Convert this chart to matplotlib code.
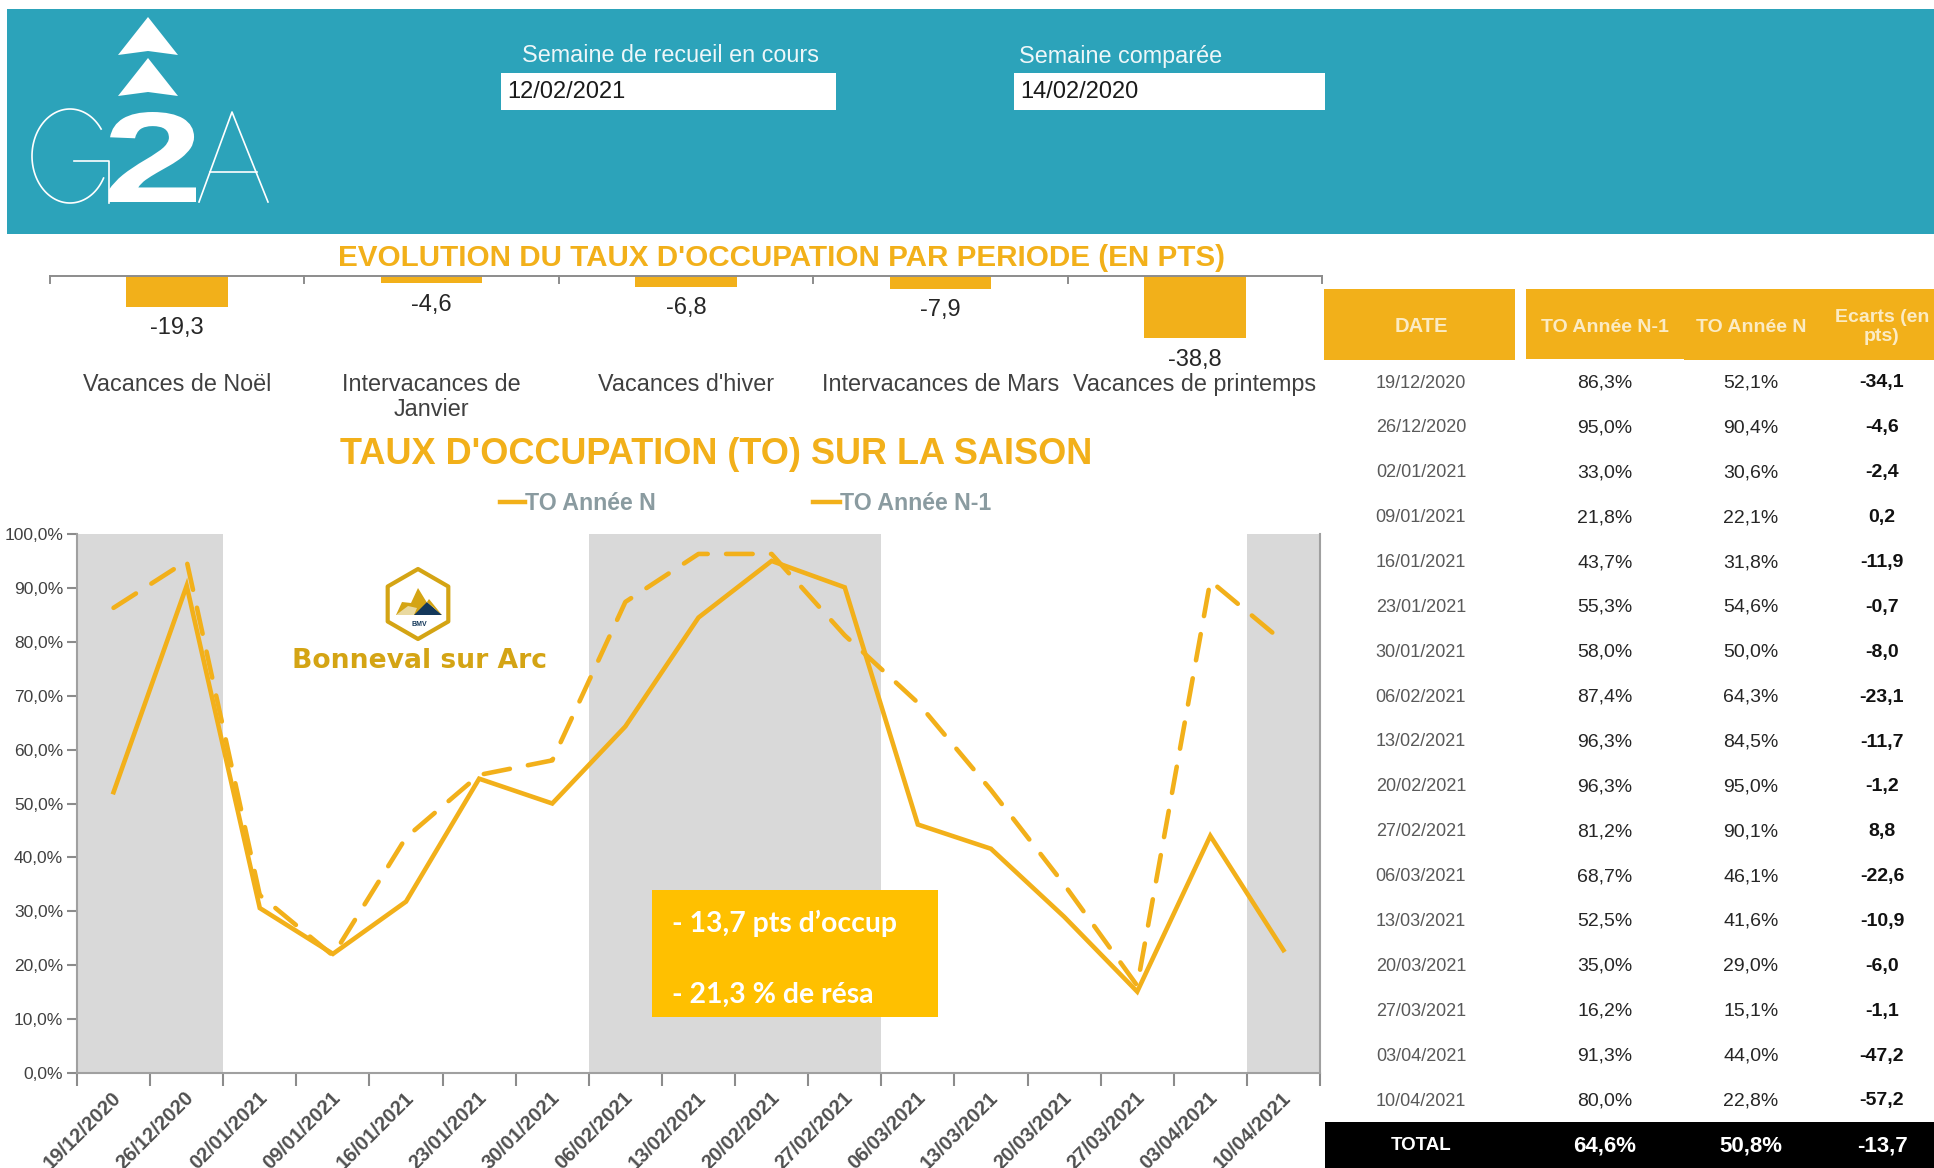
import matplotlib
matplotlib.use("Agg")
import matplotlib.pyplot as plt
from matplotlib.patches import Rectangle, Polygon, RegularPolygon, PathPatch
from matplotlib.textpath import TextPath
from matplotlib.font_manager import FontProperties
from matplotlib.transforms import Affine2D
import numpy as np

plt.rcParams['font.family'] = ['Liberation Sans', 'DejaVu Sans']

W, H = 1934, 1168
ORANGE = '#F2B01A'
TEAL = '#2CA3BA'

dates = ['19/12/2020', '26/12/2020', '02/01/2021', '09/01/2021', '16/01/2021', '23/01/2021',
         '30/01/2021', '06/02/2021', '13/02/2021', '20/02/2021', '27/02/2021', '06/03/2021',
         '13/03/2021', '20/03/2021', '27/03/2021', '03/04/2021', '10/04/2021']
to_n1 = [86.3, 95.0, 33.0, 21.8, 43.7, 55.3, 58.0, 87.4, 96.3, 96.3, 81.2, 68.7, 52.5, 35.0, 16.2, 91.3, 80.0]
to_n = [52.1, 90.4, 30.6, 22.1, 31.8, 54.6, 50.0, 64.3, 84.5, 95.0, 90.1, 46.1, 41.6, 29.0, 15.1, 44.0, 22.8]
ecarts = ['-34,1', '-4,6', '-2,4', '0,2', '-11,9', '-0,7', '-8,0', '-23,1', '-11,7', '-1,2', '8,8',
          '-22,6', '-10,9', '-6,0', '-1,1', '-47,2', '-57,2']
periods = ['Vacances de Noël', 'Intervacances de\nJanvier', "Vacances d'hiver", 'Intervacances de Mars', 'Vacances de printemps']
period_values = [-19.3, -4.6, -6.8, -7.9, -38.8]
shaded_spans = [(0, 2), (7, 11), (16, 17)]
total_row = ['TOTAL', '64,6%', '50,8%', '-13,7']


def box(x0, y0, x1, y1):
    return [x0 / W, 1 - y1 / H, (x1 - x0) / W, (y1 - y0) / H]


def fr(v):
    return f'{v:.1f}'.replace('.', ',')


fig = plt.figure(figsize=(W / 100, H / 100), dpi=100, facecolor='white')

# overlay behind the charts
bg = fig.add_axes([0, 0, 1, 1], zorder=0)
bg.set_xlim(0, W); bg.set_ylim(H, 0); bg.axis('off')
bg.add_patch(Rectangle((7, 9), W - 7, 225, fc=TEAL, ec='none'))
# G2A logo
for y in (17, 58):
    bg.add_patch(Polygon([(148, y), (118, y + 38), (148, y + 34), (178, y + 38)], closed=True, fc='white', ec='none'))
th = np.radians(np.linspace(35, 332, 120))
bg.plot(70 + 38 * np.cos(th), 156 - 47 * np.sin(th), color='white', lw=1.2)
bg.plot([74, 109, 109], [161, 161, 203], color='white', lw=1.2)
tp = TextPath((0, 0), '2', size=100, prop=FontProperties(family='Liberation Sans', weight='bold'))
e = tp.get_extents()
sx, sy = 87 / e.width, 90 / e.height
bg.add_patch(PathPatch(Affine2D().translate(-e.x0, -e.y0).scale(sx, -sy).translate(109, 202).transform_path(tp),
                       fc='white', ec='none'))
bg.plot([199, 232, 268], [202, 112, 202], color='white', lw=1.2)
bg.plot([210, 257], [172, 172], color='white', lw=1.2)

# date fields
bg.text(670, 56, 'Semaine de recueil en cours', color='#EEF7F9', fontsize=16.8, ha='center', va='center')
bg.text(1121, 56, 'Semaine comparée', color='#EEF7F9', fontsize=16.8, ha='center', va='center')
bg.add_patch(Rectangle((501, 73), 335, 37, fc='white', ec='none'))
bg.add_patch(Rectangle((1014, 73), 311, 37, fc='white', ec='none'))
bg.text(507, 92, '12/02/2021', color='#1A1A1A', fontsize=17, va='center')
bg.text(1020, 92, '14/02/2020', color='#1A1A1A', fontsize=17, va='center')

# titles
bg.text(781, 258, "EVOLUTION DU TAUX D'OCCUPATION PAR PERIODE (EN PTS)", color=ORANGE, fontsize=21.3,
        fontweight='bold', ha='center', va='center')
bg.text(716, 455, "TAUX D'OCCUPATION (TO) SUR LA SAISON", color=ORANGE, fontsize=26,
        fontweight='bold', ha='center', va='center')

# period bar chart
ax1 = fig.add_axes(box(50, 276, 1322, 370), zorder=1)
ax1.patch.set_alpha(0)
x1 = np.arange(len(period_values))
ax1.bar(x1, period_values, width=0.4, color=ORANGE)
ax1.set_xlim(-0.5, len(period_values) - 0.5)
ax1.set_ylim(-58.75, 0)
ax1.set_yticks([])
for s in ('left', 'right', 'bottom'):
    ax1.spines[s].set_visible(False)
ax1.spines['top'].set_color('#8C8C8C')
ax1.spines['top'].set_linewidth(1.4)
ax1.set_xticks([])
for xt in np.arange(len(period_values) + 1) - 0.5:
    ax1.plot([xt, xt], [0, -4.5], color='#8C8C8C', lw=1.4, clip_on=False)
for xi, v in zip(x1, period_values):
    ax1.annotate(fr(v), (xi, v), xytext=(0, -15.5), textcoords='offset points', ha='center', va='center',
                 fontsize=17, color='#262626')
for xi, lab in zip(x1, periods):
    ax1.annotate(lab, (xi, 1), xycoords=('data', 'axes fraction'), xytext=(0, -70), textcoords='offset points',
                 ha='center', va='top', fontsize=16.8, color='#404040', linespacing=1.12,
                 annotation_clip=False)

# line chart
ax = fig.add_axes(box(77, 534, 1320, 1073), zorder=1)
x = np.arange(len(dates))
for a, b in shaded_spans:
    ax.axvspan(a - 0.5, b - 0.5, color='#D9D9D9', lw=0, zorder=0)
ax.plot(x, to_n, color=ORANGE, lw=3.3, solid_joinstyle='miter', label='TO Année N', zorder=3)
ax.plot(x, to_n1, color=ORANGE, lw=3.3, dashes=(5.8, 4), dash_capstyle='round', dash_joinstyle='round',
        label='TO Année N-1', zorder=3)
ax.set_xlim(-0.5, len(dates) - 0.5)
ax.set_ylim(0, 100)
ax.set_yticks(np.arange(0, 101, 10))
ax.set_yticklabels([f'{v},0%' for v in range(0, 101, 10)], fontsize=12.5, color='#404040')
ax.set_xticks(np.arange(len(dates) + 1) - 0.5)
ax.set_xticklabels([])
ax.tick_params(axis='x', length=9, width=1.5, color='#8C8C8C')
ax.tick_params(axis='y', length=7, width=1.5, color='#8C8C8C', pad=3)
for s in ('top', 'left', 'right', 'bottom'):
    ax.spines[s].set_color('#A0A0A0')
    ax.spines[s].set_linewidth(1.5)
ax.spines['top'].set_visible(False)
for xi, d in zip(x, dates):
    ax.annotate(d, (xi, 0), xytext=(-1.6, -11), textcoords='offset points', rotation=45, rotation_mode='anchor',
                ha='right', va='top', fontsize=14.5, fontweight='bold', color='#505050', annotation_clip=False)

# overlay above the charts
fg = fig.add_axes([0, 0, 1, 1], zorder=3)
fg.set_xlim(0, W); fg.set_ylim(H, 0); fg.axis('off'); fg.patch.set_alpha(0)

# legend
fg.plot([500, 525], [502, 502], color=ORANGE, lw=3.2)
fg.text(525, 503, 'TO Année N', color='#8A9BA0', fontsize=16.7, fontweight='bold', va='center')
fg.plot([813, 840], [502, 502], color=ORANGE, lw=3.2)
fg.text(840, 503, 'TO Année N-1', color='#8A9BA0', fontsize=16.7, fontweight='bold', va='center')

# Bonneval logo
GOLD = '#D4A414'
fg.add_patch(RegularPolygon((418, 604), 6, radius=35, orientation=0, fc='white', ec=GOLD, lw=3.0, joinstyle='round'))
fg.add_patch(Polygon([(396, 615), (402, 602), (411, 603), (418, 588), (429, 606), (424, 615)], fc=GOLD, ec='none'))
fg.add_patch(Polygon([(396, 615), (408, 606), (417, 608), (414, 615)], fc='#E9D9A0', ec='none'))
fg.add_patch(Polygon([(414, 615), (427, 602), (442, 615)], fc='#14385A', ec='none'))
fg.add_patch(Polygon([(427, 602), (429, 599), (442, 615)], fc=GOLD, ec='none'))
fg.text(419, 624, 'BMV', color='#14385A', fontsize=5, fontweight='bold', ha='center', va='center')
fg.text(420, 661, 'Bonneval sur Arc', color=GOLD, fontsize=19.2, fontweight='bold', family=['DejaVu Sans'],
        ha='center', va='center')

# callout
fg.add_patch(Rectangle((652, 890), 286, 127, fc='#FFC000', ec='none'))
fg.text(672, 923, '- 13,7 pts d’occup', color='white', fontsize=20.4, fontweight='bold', family=['Lato'], va='center')
fg.text(672, 995, '- 21,3 % de résa', color='white', fontsize=20.4, fontweight='bold', family=['Lato'], va='center')

# table
fg.add_patch(Rectangle((1324, 289), 191, 71, fc=ORANGE, ec='none'))
fg.add_patch(Rectangle((1526, 289), W - 1526, 70, fc=ORANGE, ec='none'))
fg.add_patch(Rectangle((1684, 340), W - 1684, 20, fc=ORANGE, ec='none'))
col_x = [1421, 1605, 1751, 1882]
for cx, lab, fs in zip(col_x, ['DATE', 'TO Année N-1', 'TO Année N', 'Ecarts (en\npts)'], [14.5, 14, 14, 14]):
    fg.text(cx, 327, lab, color='#FBEBC4', fontsize=fs, fontweight='bold', ha='center', va='center', linespacing=1.2)
row_y = 383 + (1101 - 383) / 16 * np.arange(len(dates))
for y, d, a, b, e_ in zip(row_y, dates, to_n1, to_n, ecarts):
    fg.text(col_x[0], y, d, color='#595959', fontsize=13, ha='center', va='center')
    fg.text(col_x[1], y, fr(a) + '%', color='#262626', fontsize=14, ha='center', va='center')
    fg.text(col_x[2], y, fr(b) + '%', color='#262626', fontsize=14, ha='center', va='center')
    fg.text(col_x[3], y, e_, color='#111111', fontsize=14, fontweight='bold', ha='center', va='center')
fg.add_patch(Rectangle((1325, 1122), W - 1325, 46, fc='black', ec='none'))
fg.text(col_x[0], 1146, total_row[0], color='white', fontsize=13.5, fontweight='bold', ha='center', va='center')
for cx, t in zip(col_x[1:], total_row[1:]):
    fg.text(cx, 1146, t, color='white', fontsize=16, fontweight='bold', ha='center', va='center')

fig.savefig('out.png', dpi=100, facecolor='white')
